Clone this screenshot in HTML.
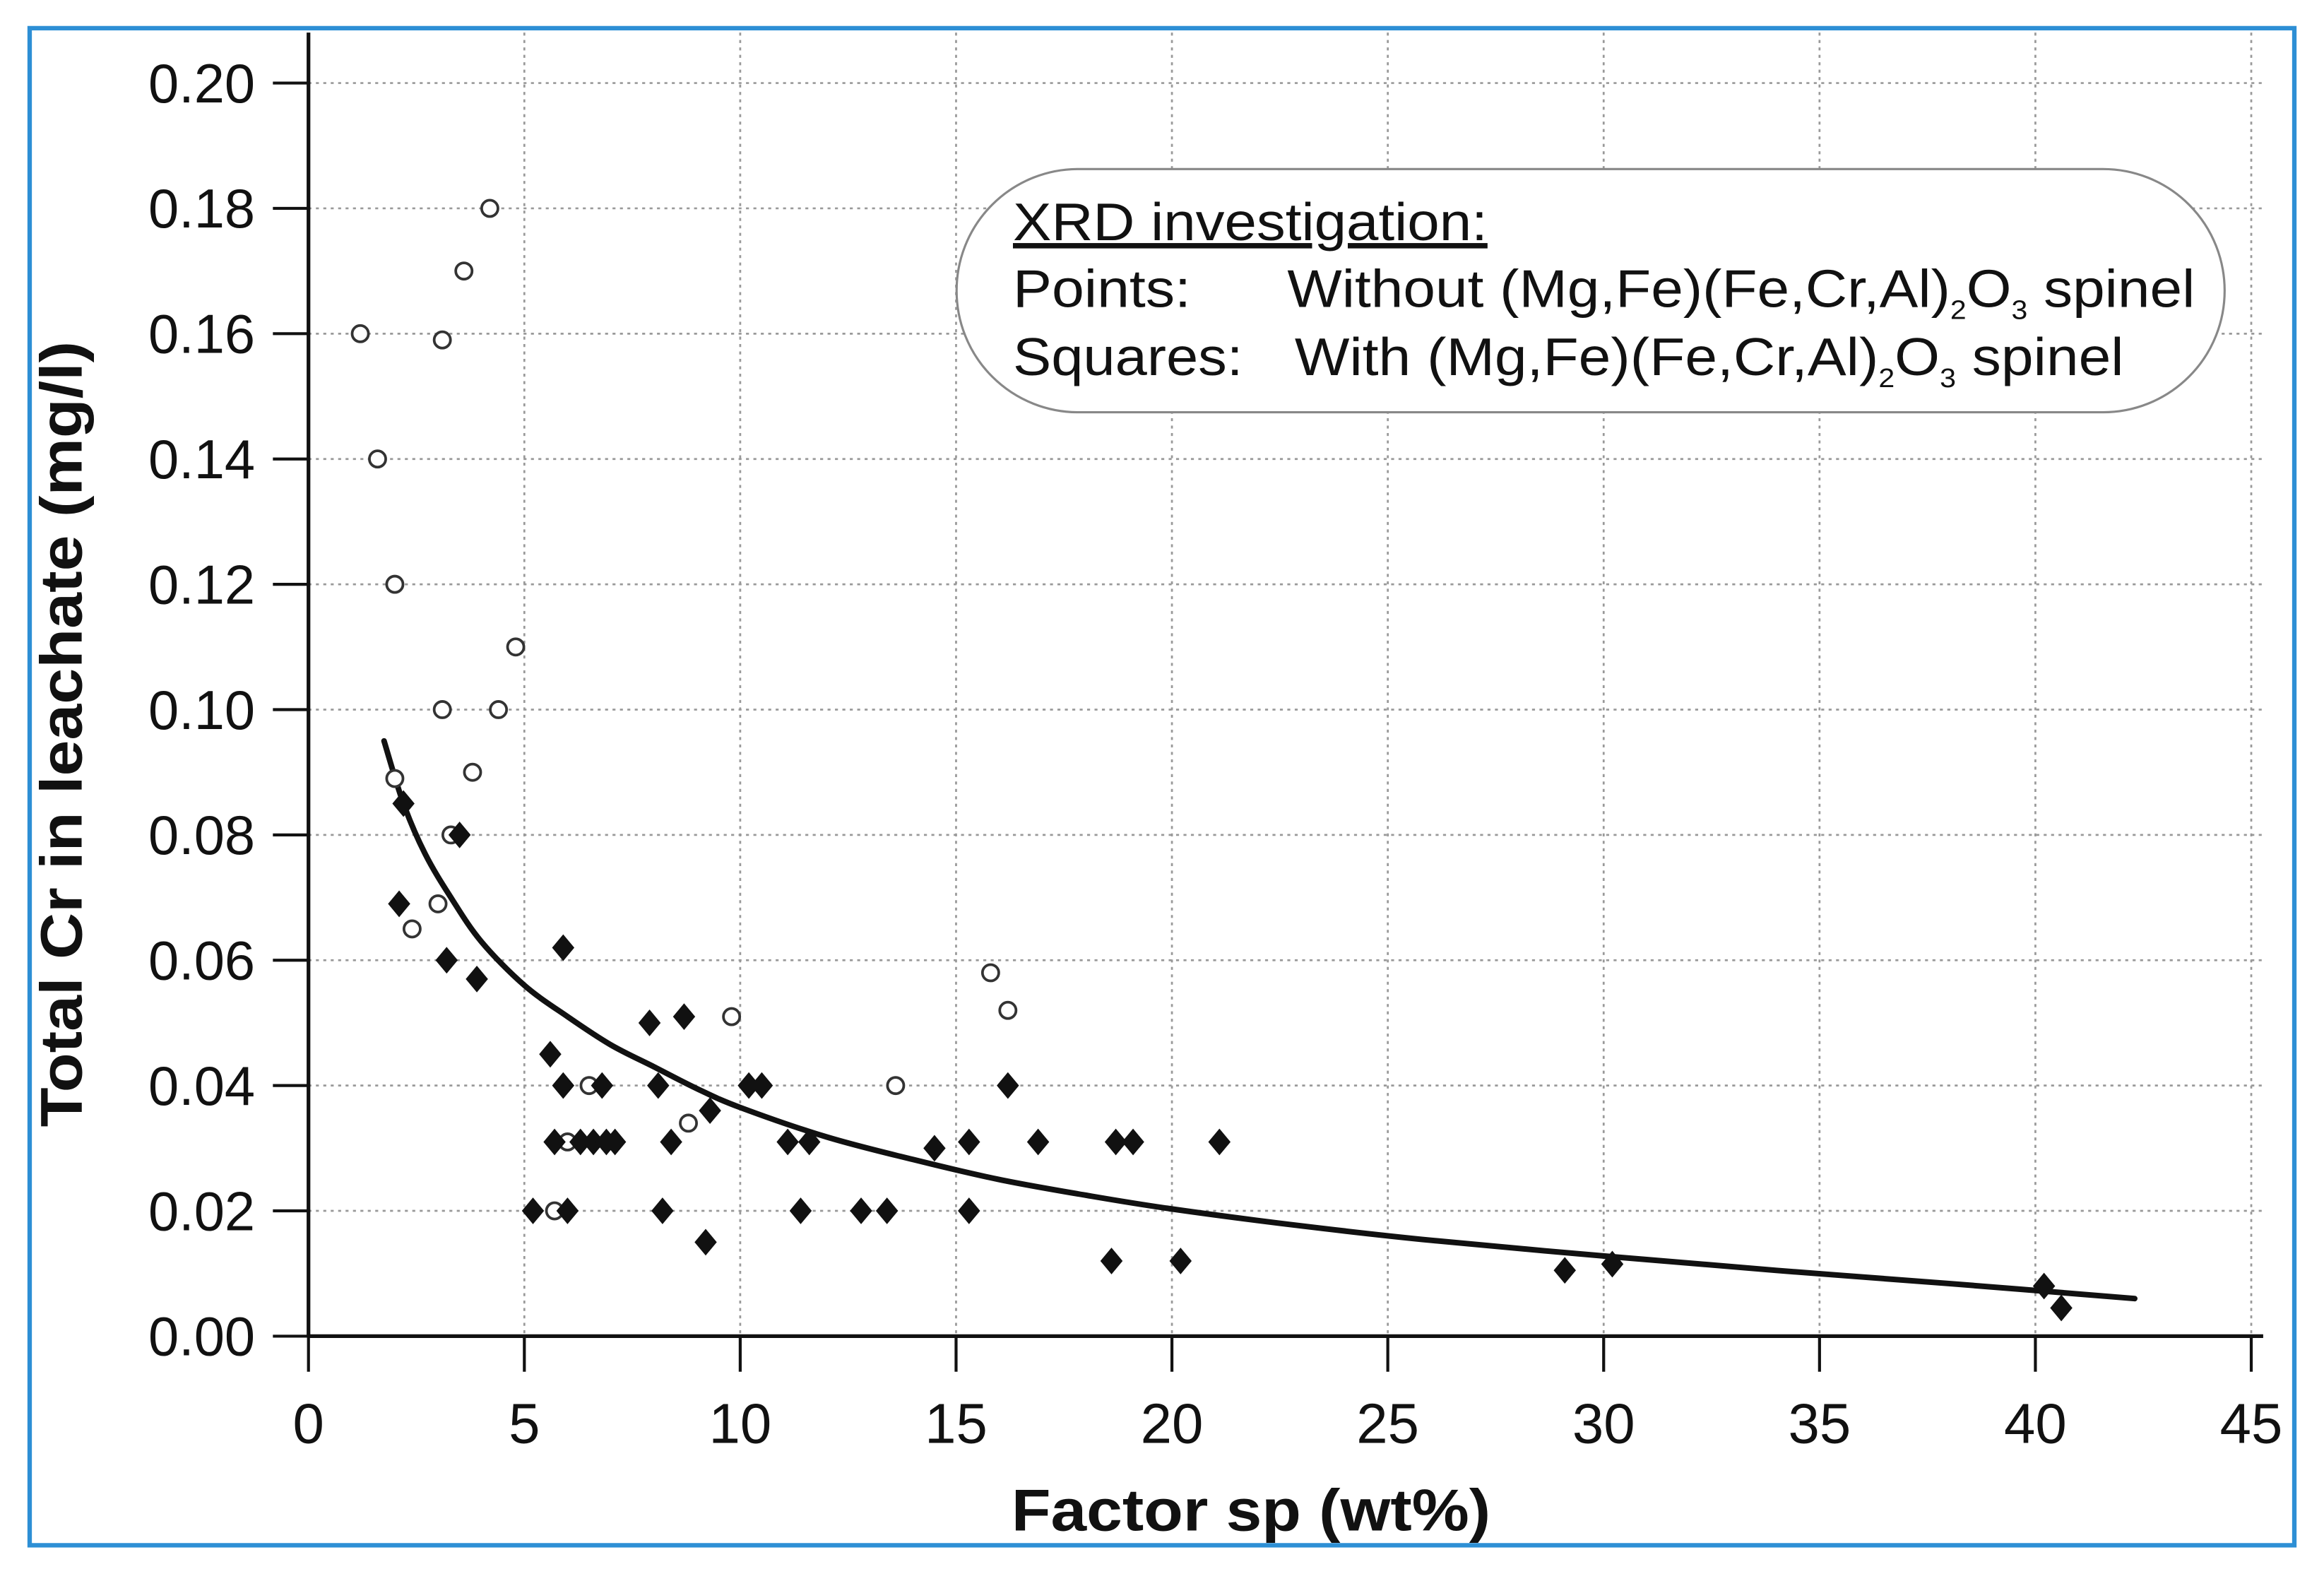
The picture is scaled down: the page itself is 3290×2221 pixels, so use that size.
<!DOCTYPE html>
<html><head><meta charset="utf-8"><style>
html,body{margin:0;padding:0;background:#fff}
svg{display:block}
text{font-family:"Liberation Sans",sans-serif;fill:#111}
</style></head><body>
<svg width="3290" height="2221" viewBox="0 0 1567 1058" preserveAspectRatio="none" xmlns="http://www.w3.org/2000/svg">
<rect x="20" y="19" width="1527" height="1023" fill="#fff" stroke="#2d8fd5" stroke-width="3"/>
<g id="grid"></g>
<g id="axes"></g>
<g>
<rect x="645" y="114" width="855" height="164" rx="82" ry="82" fill="#fff" stroke="#888" stroke-width="1.5"/>
<text x="683" y="162" font-size="36" textLength="320" lengthAdjust="spacingAndGlyphs" text-decoration="underline">XRD investigation:</text>
<text x="683" y="207" font-size="36"><tspan textLength="120" lengthAdjust="spacingAndGlyphs">Points:</tspan><tspan x="868" textLength="612" lengthAdjust="spacingAndGlyphs">Without (Mg,Fe)(Fe,Cr,Al)<tspan font-size="18" dy="8">2</tspan><tspan dy="-8">O</tspan><tspan font-size="18" dy="8">3</tspan><tspan dy="-8"> spinel</tspan></tspan></text>
<text x="683" y="253" font-size="36"><tspan textLength="155" lengthAdjust="spacingAndGlyphs">Squares:</tspan><tspan x="873" textLength="559" lengthAdjust="spacingAndGlyphs">With (Mg,Fe)(Fe,Cr,Al)<tspan font-size="18" dy="8">2</tspan><tspan dy="-8">O</tspan><tspan font-size="18" dy="8">3</tspan><tspan dy="-8"> spinel</tspan></tspan></text>
</g>
<g id="curve"></g>
<g id="marks"></g>
<text x="682" y="1032" font-size="40" font-weight="bold" textLength="323" lengthAdjust="spacingAndGlyphs">Factor sp (wt%)</text>
<text transform="translate(55,495) rotate(-90)" font-size="40" font-weight="bold" text-anchor="middle" textLength="530" lengthAdjust="spacingAndGlyphs">Total Cr in leachate (mg/l)</text>
</svg>
<script>
const xTicks=[0,5,10,15,20,25,30,35,40,45];
const yTicks=[0,0.02,0.04,0.06,0.08,0.10,0.12,0.14,0.16,0.18,0.20];
const yTickLabels=["0.00","0.02","0.04","0.06","0.08","0.10","0.12","0.14","0.16","0.18","0.20"];
const circleX=[1.2,1.6,2.0,3.1,3.6,4.2,4.8,3.1,4.4,3.8,2.0,3.3,3.0,2.4,5.7,6.0,6.5,8.8,9.8,13.6,15.8,16.2];
const circleY=[0.16,0.14,0.12,0.159,0.17,0.18,0.110,0.10,0.10,0.09,0.089,0.08,0.069,0.065,0.02,0.031,0.04,0.034,0.051,0.04,0.058,0.052];
const diamondX=[2.2,3.5,2.1,3.2,3.9,5.9,5.6,5.9,6.8,5.7,6.3,6.6,6.9,7.1,5.2,6.0,7.9,8.7,8.1,8.4,9.3,8.2,9.2,10.2,10.5,11.1,11.6,11.4,12.8,13.4,14.5,15.3,15.3,16.2,16.9,18.7,19.1,18.6,20.2,21.1,29.1,30.2,40.2,40.6];
const diamondY=[0.085,0.08,0.069,0.06,0.057,0.062,0.045,0.04,0.04,0.031,0.031,0.031,0.031,0.031,0.02,0.02,0.05,0.051,0.04,0.031,0.036,0.02,0.015,0.04,0.04,0.031,0.031,0.02,0.02,0.02,0.03,0.031,0.02,0.04,0.031,0.031,0.031,0.012,0.012,0.031,0.0105,0.0115,0.008,0.0045];
const curveX=[1.75,2.2,2.7,3.3,4,5,6,7,8,9,10,12,14,16,18,20,23,26,30,34,38,42.3];
const curveY=[0.095,0.085,0.077,0.070,0.063,0.056,0.051,0.0465,0.043,0.0395,0.0365,0.0318,0.0282,0.025,0.0225,0.0203,0.0176,0.0153,0.0128,0.0105,0.0084,0.006];
const NS="http://www.w3.org/2000/svg";
const sx=v=>208+v*29.11, sy=v=>901-v*4225;
function mk(tag,attrs,parent){const e=document.createElementNS(NS,tag);for(const k in attrs)e.setAttribute(k,attrs[k]);parent.appendChild(e);return e;}
const grid=document.getElementById('grid'),axes=document.getElementById('axes');
xTicks.forEach(t=>{if(t>0){const l=mk('line',{x1:sx(t),x2:sx(t),y1:22,y2:901,stroke:'#999','stroke-width':1.3,'stroke-dasharray':'2,3'},grid);

}
const tk=mk('line',{x1:sx(t),x2:sx(t),y1:901,y2:925,stroke:'#111','stroke-width':2},axes);


const tx=mk('text',{x:sx(t),y:973,'font-size':38,'text-anchor':'middle'},axes);tx.textContent=String(t);

});
yTicks.forEach((t,i)=>{if(t>0){const l=mk('line',{x1:208,x2:1528,y1:sy(t),y2:sy(t),stroke:'#999','stroke-width':1.3,'stroke-dasharray':'2,3'},grid);

}
const tk=mk('line',{x1:184,x2:208,y1:sy(t),y2:sy(t),stroke:'#111','stroke-width':2},axes);


const tx=mk('text',{x:172,y:sy(t)+13,'font-size':37,'text-anchor':'end'},axes);tx.textContent=yTickLabels[i];

});
const ya=mk('line',{x1:208,x2:208,y1:22,y2:901,stroke:'#111','stroke-width':2.5},axes);


const xa=mk('line',{x1:208,x2:1526,y1:901,y2:901,stroke:'#111','stroke-width':2.5},axes);


// smooth curve via Catmull-Rom through data points
const P=curveX.map((x,i)=>[sx(x),sy(curveY[i])]);
let d='M'+P[0][0]+','+P[0][1];
for(let i=0;i<P.length-1;i++){const p0=P[i-1]||P[i],p1=P[i],p2=P[i+1],p3=P[i+2]||P[i+1];
d+=` C${p1[0]+(p2[0]-p0[0])/6},${p1[1]+(p2[1]-p0[1])/6} ${p2[0]-(p3[0]-p1[0])/6},${p2[1]-(p3[1]-p1[1])/6} ${p2[0]},${p2[1]}`;}
const cp=mk('path',{d:d,fill:'none',stroke:'#111','stroke-width':3.8,'stroke-linecap':'round'},document.getElementById('curve'));


const marks=document.getElementById('marks');
circleX.forEach((x,i)=>{const c=mk('circle',{cx:sx(x),cy:sy(circleY[i]),r:5.5,fill:'#fff',stroke:'#333','stroke-width':1.8},marks);

});
diamondX.forEach((x,i)=>{const cx=sx(x),cy=sy(diamondY[i]);const dm=mk('polygon',{points:`${cx},${cy-9} ${cx+7.5},${cy} ${cx},${cy+9} ${cx-7.5},${cy}`,fill:'#111'},marks);

});
</script>
</body></html>
